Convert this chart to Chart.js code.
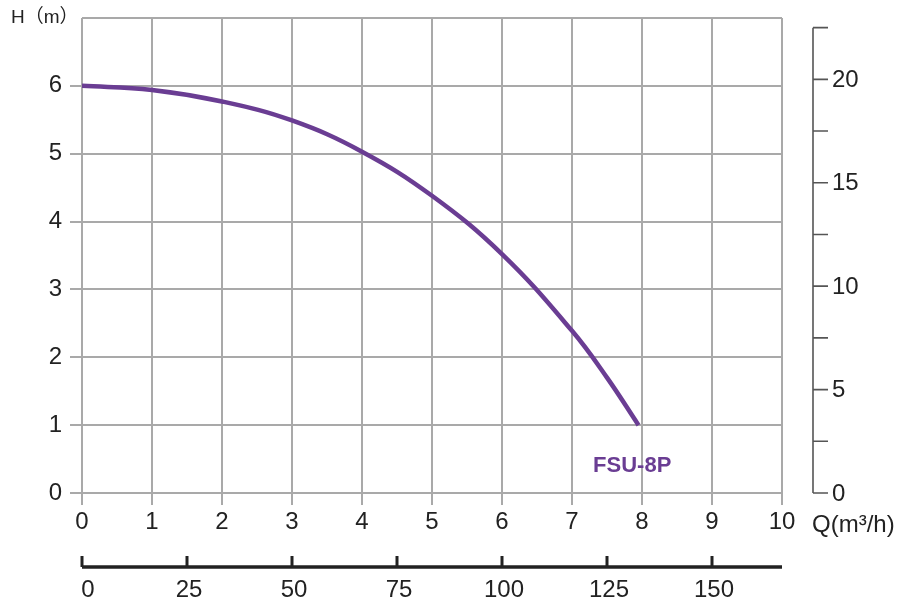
<!DOCTYPE html>
<html>
<head>
<meta charset="utf-8">
<script src="https://cdn.jsdelivr.net/npm/chart.js@4/dist/chart.umd.min.js"></script>
<style>
  html, body { margin: 0; padding: 0; background: #fff; }
  #wrap { width: 917px; height: 601px; position: relative; }
</style>
</head>
<body>
<div id="wrap"><canvas id="pumpChart"></canvas></div>
<script>
// pump curve FSU-8P
const flowM3h = [0, 1, 2, 3, 4, 5, 6, 7, 7.5, 7.95];
const headM   = [6.0, 5.94, 5.77, 5.49, 5.03, 4.38, 3.52, 2.39, 1.7, 1.0];

const seriesName = 'FSU-8P';
const seriesLabelAt = { q: 7.86, h: 0.4 };

const headTicks = [0, 1, 2, 3, 4, 5, 6];
const flowTicks = [0, 1, 2, 3, 4, 5, 6, 7, 8, 9, 10];
const feetTicks = [0, 2.5, 5, 7.5, 10, 12.5, 15, 17.5, 20, 22.5];
const feetLabels = [0, 5, 10, 15, 20];
const lpmTicks = [0, 25, 50, 75, 100, 125, 150];

const M_TO_FT = 3.28084;
const M3H_TO_LPM = 1000 / 60;

const font = "'Liberation Sans', Arial, sans-serif";
const textColor = '#222';
const gridColor = '#a9a9a9';
const curveColor = '#6a3d93';

const extraAxes = {
    id: 'extraAxes',
    afterDraw(chart) {
        const ctx = chart.ctx;
        const area = chart.chartArea;
        const ft = chart.scales.y2;
        const lpm = chart.scales.x2;
        const qs = chart.scales.x;
        const hs = chart.scales.y;
        ctx.save();

        // right axis (ft)
        const ax = area.right + 31;
        ctx.strokeStyle = '#555';
        ctx.lineWidth = 1.6;
        ctx.beginPath();
        ctx.moveTo(ax, ft.getPixelForValue(feetTicks[feetTicks.length - 1]));
        ctx.lineTo(ax, ft.getPixelForValue(0));
        feetTicks.forEach(v => {
            const y = ft.getPixelForValue(v);
            ctx.moveTo(ax, y);
            ctx.lineTo(ax + 15, y);
        });
        ctx.stroke();
        ctx.fillStyle = textColor;
        ctx.font = '24px ' + font;
        ctx.textAlign = 'left';
        ctx.textBaseline = 'middle';
        feetLabels.forEach(v => {
            ctx.fillText(String(v), ax + 19, ft.getPixelForValue(v) + 1);
        });

        // second bottom axis (L/min)
        const by = 567;
        ctx.strokeStyle = '#222';
        ctx.lineWidth = 3.5;
        ctx.beginPath();
        ctx.moveTo(lpm.getPixelForValue(0), by);
        ctx.lineTo(area.right, by);
        ctx.stroke();
        ctx.lineWidth = 3;
        ctx.beginPath();
        lpmTicks.forEach(v => {
            const x = lpm.getPixelForValue(v);
            ctx.moveTo(x, by);
            ctx.lineTo(x, by - 11);
        });
        ctx.stroke();
        ctx.textAlign = 'center';
        lpmTicks.forEach(v => {
            ctx.fillText(String(v), lpm.getPixelForValue(v) + (v === 0 ? 6 : 2), 590);
        });

        // axis names
        ctx.font = '19px ' + font + ", 'Noto Sans CJK SC'";
        ctx.textAlign = 'left';
        ctx.fillText('H（m）', 11, 18);
        ctx.font = '24px ' + font;
        ctx.fillText('Q(m³/h)', 812, 525);

        // series label
        ctx.font = 'bold 22px ' + font;
        ctx.fillStyle = curveColor;
        ctx.textAlign = 'center';
        ctx.fillText(seriesName, qs.getPixelForValue(seriesLabelAt.q), hs.getPixelForValue(seriesLabelAt.h));
        ctx.restore();
    }
};

const ctx = document.getElementById('pumpChart').getContext('2d');
new Chart(ctx, {
    type: 'line',
    data: {
        datasets: [{
            label: seriesName,
            data: flowM3h.map((q, i) => ({ x: q, y: headM[i] })),
            borderColor: curveColor,
            borderWidth: 4.5,
            pointRadius: 0,
            tension: 0.4,
            fill: false
        }]
    },
    options: {
        responsive: true,
        maintainAspectRatio: false,
        animation: false,
        layout: { padding: { left: 0, right: 135, top: 18, bottom: 0 } },
        plugins: { legend: { display: false }, tooltip: { enabled: false } },
        scales: {
            x: {
                type: 'linear',
                position: 'bottom',
                min: 0,
                max: 10,
                afterBuildTicks: s => { s.ticks = flowTicks.map(v => ({ value: v })); },
                afterFit: s => { s.height = 108; },
                ticks: { color: textColor, font: { size: 24, family: font }, padding: 3, maxRotation: 0 },
                grid: { color: gridColor, lineWidth: 2, tickLength: 12, tickColor: gridColor },
                border: { display: false }
            },
            y: {
                type: 'linear',
                position: 'left',
                min: 0,
                max: 7,
                afterBuildTicks: s => { s.ticks = headTicks.concat([7]).map(v => ({ value: v })); },
                afterFit: s => { s.width = 82; s.paddingTop = 0; s.paddingBottom = 0; },
                ticks: {
                    color: textColor,
                    font: { size: 24, family: font },
                    padding: 8,
                    callback: v => headTicks.includes(v) ? String(v) : ''
                },
                grid: {
                    color: gridColor,
                    lineWidth: 2,
                    tickLength: 12,
                    tickColor: c => (c.tick && headTicks.includes(c.tick.value)) ? gridColor : 'rgba(0,0,0,0)'
                },
                border: { display: false }
            },
            y2: { type: 'linear', display: false, min: 0, max: 7 * M_TO_FT },
            x2: { type: 'linear', display: false, position: 'bottom', min: 0, max: 10 * M3H_TO_LPM }
        }
    },
    plugins: [extraAxes]
});
</script>
</body>
</html>
